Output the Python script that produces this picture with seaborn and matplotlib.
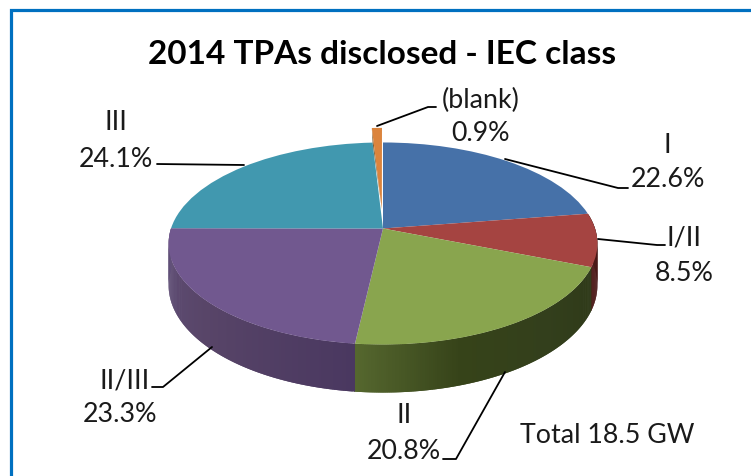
import numpy as np
import seaborn as sns
import matplotlib.pyplot as plt
import matplotlib.transforms as mtransforms

labels = ["I", "I/II", "II", "II/III", "III", "(blank)"]
shares = [22.6, 8.5, 20.8, 23.3, 24.1, 0.9]
explode = [0, 0, 0, 0, 0, 0.2]
top_colors = ["#4671A8", "#A54441", "#89A54E", "#71588F", "#4198AF", "#DB843D"]
side_ramps = {
    "I/II": ["#3a1413", "#4f1a18"],
    "II": ["#2f3a19", "#333f1c", "#364319", "#56682f"],
    "II/III": ["#4a3860", "#584568", "#61507a"],
}

title = "2014 TPAs disclosed - IEC class"
note = "Total 18.5 GW"

# pie position in pixels, and the perspective of the tilted disc
cx, cy = 383, 229.5
rx, ry = 212, 98.8
tilt = 0.1485
depth = 40.9


def project(u, v):
    w = 1 + tilt * v
    return cx + rx * u / w, cy - ry * v / w


class Tilt(mtransforms.Transform):
    input_dims = 2
    output_dims = 2
    is_separable = False

    def transform_non_affine(self, values):
        x, y = project(values[:, 0], values[:, 1])
        return np.column_stack([x, y])


sns.set_theme(style="white")
plt.rcParams["font.family"] = ["Lato", "DejaVu Sans"]

fig = plt.figure(figsize=(7.51, 4.77), dpi=100)
ax = fig.add_axes([0, 0, 1, 1])

wedges, _ = ax.pie(shares, explode=explode, colors=top_colors, startangle=90,
                   counterclock=False, wedgeprops={"linewidth": 0, "zorder": 5})
for w in wedges:
    w.set_transform(Tilt() + ax.transData)
    w.set_clip_on(False)

# side wall of the front slices, thin strips along the rim
ends = np.cumsum(shares) / np.sum(shares) * 360
starts = np.concatenate([[0], ends[:-1]])
for name, a, b in zip(labels, starts, ends):
    if name not in side_ramps:
        continue
    angles = np.radians(90 - np.arange(a, b + 0.5, 0.5))
    ramp = sns.blend_palette(side_ramps[name], len(angles))
    for i in range(len(angles) - 1):
        # strips overlap the next one so no seams show
        u = np.cos(angles[i:i + 3])
        v = np.sin(angles[i:i + 3])
        x, y = project(u, v)
        drop = depth / (1 + tilt * v)
        ax.fill(np.r_[x, x[::-1]], np.r_[y, (y + drop)[::-1]], color=ramp[i], lw=0, zorder=2)

# dark cut face of the pulled out slice, fills the gap to the teal slice
cut = np.radians(90 - starts[-1])
mid = np.radians(90 - (starts[-1] + ends[-1]) / 2)
off = explode[-1]
face_u = np.array([off * np.cos(mid), off * np.cos(mid) + np.cos(cut), np.cos(cut)])
face_v = np.array([off * np.sin(mid), off * np.sin(mid) + np.sin(cut), np.sin(cut)])
ax.fill(*project(face_u, face_v), color="#7A5A2E", lw=0, zorder=5.5)
wedges[-1].set_zorder(5.6)

ax.set_aspect("auto")
ax.set_xlim(0, 751)
ax.set_ylim(477, 0)
ax.axis("off")

# blue frame of the slide
ax.plot([751, 10.5, 10.5], [10.5, 10.5, 477], color="#0070C0", lw=2.3, zorder=1, solid_joinstyle="miter")

ax.text(382, 54, title, fontsize=24, fontweight="bold", color="black", ha="center", va="center")

label_spots = {"I": (667, 146), "I/II": (684, 238), "II": (404, 416), "II/III": (125, 381), "III": (116, 122),
               "(blank)": (481, 100)}
value_spots = {"I": (668, 180), "I/II": (684, 274), "II": (404, 452), "II/III": (120, 415), "III": (116, 160),
               "(blank)": (481, 134)}
for name, share in zip(labels, shares):
    ax.text(*label_spots[name], name, fontsize=19.3, color="#1a1a1a", ha="center", va="center")
    ax.text(*value_spots[name], f"{share}%", fontsize=19.3, color="#1a1a1a", ha="center", va="center")
ax.text(607, 436, note, fontsize=19.3, color="#1a1a1a", ha="center", va="center")

# leader lines
leaders = [
    ([505, 618, 628], [160, 189, 189]),
    ([598, 657, 665], [240, 246, 246]),
    ([505, 456, 443], [373, 460, 460]),
    ([212, 163, 152], [348, 388, 388]),
    ([157, 244], [165, 166]),
    ([377, 428, 436], [127, 108, 108]),
]
for xs, ys in leaders:
    ax.plot(xs, ys, color="black", lw=1.3, zorder=6)

plt.savefig("out.png", dpi=100)
